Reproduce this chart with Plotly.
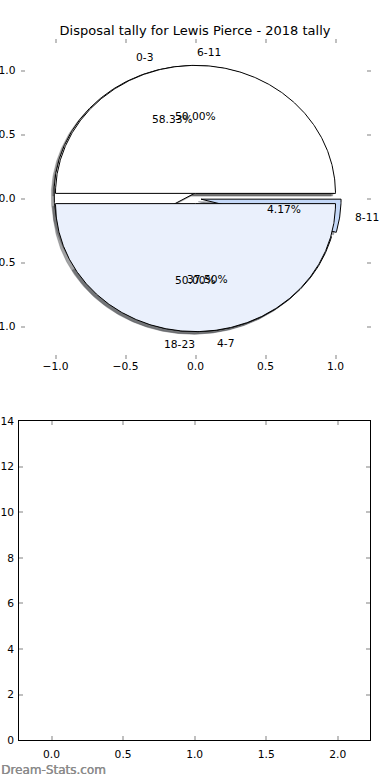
import numpy as np
import plotly.graph_objects as go

title_text = "Disposal tally for Lewis Pierce - 2018 tally"
watermark = "Dream-Stats.com"

# first pie (drawn first, underneath)
pie_a_labels = ["0-3", "4-7", "8-11"]
pie_a_values = [14, 9, 1]
pie_a_explode = [0.04, 0.04, 0.04]
pie_a_colors = ["#ffffff", "#d9e6fa", "#c4d8f8"]

# second pie (drawn on top)
pie_b_labels = ["6-11", "18-23"]
pie_b_values = [12, 12]
pie_b_explode = [0.04, 0.04]
pie_b_colors = ["#ffffff", "#eaf0fc"]

top_ticks = [-1.0, -0.5, 0.0, 0.5, 1.0]
bottom_xticks = [0.0, 0.5, 1.0, 1.5, 2.0]
bottom_yticks = [0, 2, 4, 6, 8, 10, 12, 14]

# empty bar panel
bar_x = []
bar_y = []

FONT = "DejaVu Sans"
FS = 10.7


def wedges(values, explode):
    fr = np.asarray(values, float) / float(np.sum(values))
    out = []
    t1 = 0.0
    for f, e in zip(fr, explode):
        t2 = t1 + f
        thetam = 2 * np.pi * 0.5 * (t1 + t2)
        cx, cy = e * np.cos(thetam), e * np.sin(thetam)
        ang = np.linspace(2 * np.pi * t1, 2 * np.pi * t2, max(int(720 * f), 4) + 1)
        xs = np.concatenate([[cx], cx + np.cos(ang), [cx]])
        ys = np.concatenate([[cy], cy + np.sin(ang), [cy]])
        out.append(dict(xs=xs, ys=ys, thetam=thetam, e=e, f=f))
        t1 = t2
    return out


def shade(hexcol):
    h = hexcol.lstrip("#")
    r, g, b = (int(h[i:i + 2], 16) for i in (0, 2, 4))
    return "rgba(%d,%d,%d,0.5)" % (0.3 * r, 0.3 * g, 0.3 * b)


wa = wedges(pie_a_values, pie_a_explode)
wb = wedges(pie_b_values, pie_b_explode)

fig = go.Figure()

# shadows first (lowest z-order)
for ws, cols in ((wa, pie_a_colors), (wb, pie_b_colors)):
    for w, c in zip(ws, cols):
        fig.add_trace(go.Scatter(x=w["xs"] - 0.02, y=w["ys"] - 0.02, mode="lines",
                                 fill="toself", fillcolor=shade(c),
                                 line=dict(color=shade(c), width=0.5),
                                 hoverinfo="skip", showlegend=False,
                                 xaxis="x", yaxis="y"))
# wedges
for ws, cols in ((wa, pie_a_colors), (wb, pie_b_colors)):
    for w, c in zip(ws, cols):
        fig.add_trace(go.Scatter(x=w["xs"], y=w["ys"], mode="lines",
                                 fill="toself", fillcolor=c,
                                 line=dict(color="black", width=1),
                                 hoverinfo="skip", showlegend=False,
                                 xaxis="x", yaxis="y"))

ann = []
for ws, labels in ((wa, pie_a_labels), (wb, pie_b_labels)):
    for w, lab in zip(ws, labels):
        t = w["thetam"]
        xt = (w["e"] + 1.1) * np.cos(t)
        yt = (w["e"] + 1.1) * np.sin(t)
        ann.append(dict(x=xt, y=yt, xref="x", yref="y", text=lab, showarrow=False,
                        xanchor="left" if xt > 0 else "right", yanchor="middle",
                        borderpad=0,
                        font=dict(family=FONT, size=FS, color="black")))
        xp = (w["e"] + 0.6) * np.cos(t)
        yp = (w["e"] + 0.6) * np.sin(t)
        ann.append(dict(x=xp, y=yp, xref="x", yref="y", text="%.2f%%" % (100 * w["f"]),
                        showarrow=False, xanchor="center", yanchor="middle",
                        font=dict(family=FONT, size=FS, color="black")))

ann.append(dict(x=0, y=10 / 780, xref="paper", yref="paper", text=watermark,
                showarrow=False, xanchor="left", yanchor="middle", borderpad=0,
                font=dict(family=FONT, size=12, color="#8a8a8a",
                          shadow="0.4px 0 0 #8a8a8a")))

fig.add_trace(go.Bar(x=bar_x, y=bar_y, xaxis="x2", yaxis="y2", showlegend=False,
                     marker_color="#c4d8f8"))

tick_common = dict(ticks="inside", ticklen=4, tickwidth=1.5, tickcolor="#c0c0c0",
                   showgrid=False, zeroline=False, automargin=False,
                   tickfont=dict(family=FONT, size=FS, color="black"))

fig.update_layout(
    width=390, height=780,
    margin=dict(l=0, r=0, t=0, b=0),
    paper_bgcolor="white", plot_bgcolor="white",
    template="none",
    showlegend=False,
    title=dict(text=title_text, x=0.5, xanchor="center", y=1 - 30 / 780, yanchor="middle",
               font=dict(family=FONT, size=13, color="black")),
    xaxis=dict(domain=[20.5 / 390, 370.5 / 390], range=[-1.25, 1.25], anchor="y",
               tickvals=top_ticks, tickformat=".1f", showline=False, mirror="ticks",
               **tick_common),
    yaxis=dict(domain=[1 - 358.5 / 780, 1 - 38.5 / 780], range=[-1.25, 1.25], anchor="x",
               tickvals=top_ticks, tickformat=".1f", showline=False, mirror="ticks",
               ticklabelstandoff=4, **tick_common),
    xaxis2=dict(domain=[19.3 / 390, 370 / 390], range=[-0.225, 2.225], anchor="y2",
                tickvals=bottom_xticks, tickformat=".1f", showline=True, linecolor="black",
                linewidth=1, mirror="ticks", ticklabelstandoff=4, **tick_common),
    yaxis2=dict(domain=[1 - 740.3 / 780, 1 - 421 / 780], range=[0, 14], anchor="x2",
                tickvals=bottom_yticks, showline=True, linecolor="black",
                linewidth=1, mirror="ticks", ticklabelstandoff=2, **tick_common),
    annotations=ann,
)

fig.write_html("out.html")
